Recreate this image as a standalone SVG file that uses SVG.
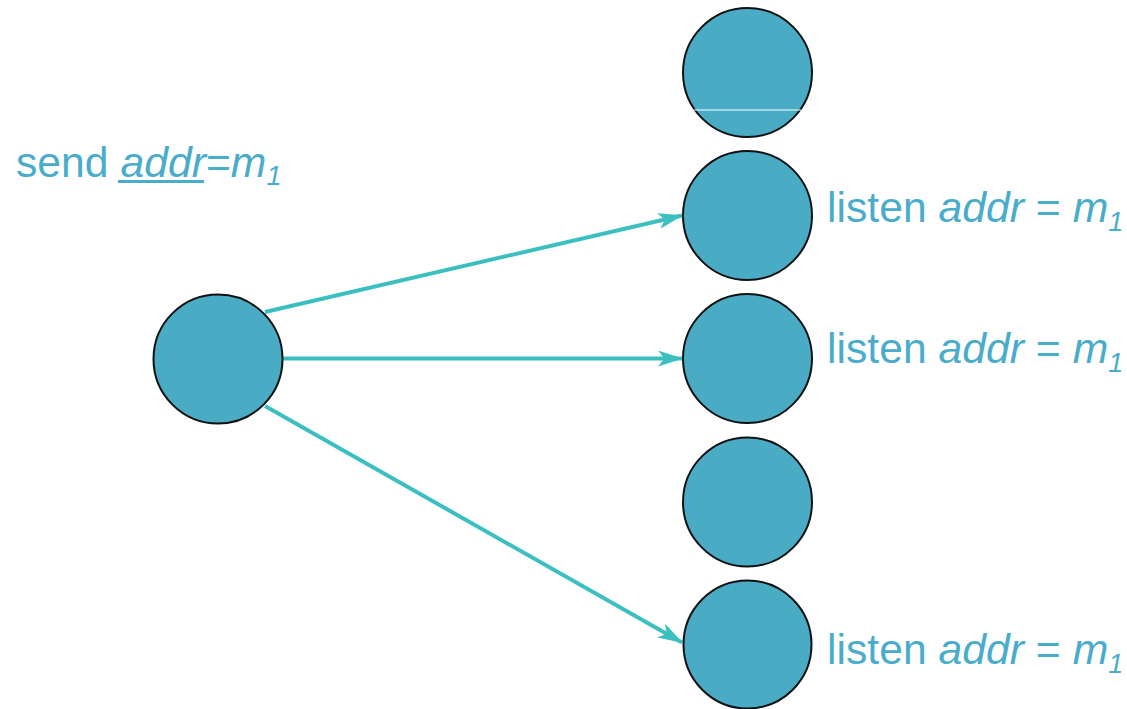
<svg xmlns="http://www.w3.org/2000/svg" width="1127" height="709" viewBox="0 0 1127 709">
<defs>
<style>
.node{fill:#4aabc5;stroke:#111;stroke-width:2}
.lbl{font-family:"Liberation Sans",Arial,sans-serif;font-size:42.7px;fill:#4aaccb}
.it{font-style:italic}
.sub{font-size:27px;font-style:italic}
.edge{stroke:#3cbfc0;stroke-width:4;fill:none}
</style>
<marker id="arr" markerWidth="7" markerHeight="4" refX="6" refY="2" orient="auto" markerUnits="strokeWidth">
<path d="M0,0 L6.3,2 L0,4 L1.6,2 Z" fill="#3cbfc0"/>
</marker>
</defs>
<rect width="1127" height="709" fill="#fff"/>
<g id="connectors">
<line class="edge" x1="265" y1="312" x2="682" y2="215.5" marker-end="url(#arr)"/>
<line class="edge" x1="283" y1="358.5" x2="682" y2="358.5" marker-end="url(#arr)"/>
<line class="edge" x1="265" y1="406" x2="682" y2="642.5" marker-end="url(#arr)"/>
</g>
<g id="sender">
<circle class="node" cx="218" cy="359" r="64.5"/>
<text class="lbl" x="16" y="177">send <tspan class="it">addr</tspan>=<tspan class="it">m</tspan><tspan class="sub" dy="8">1</tspan></text>
<rect x="118" y="180" width="86" height="3" fill="#4aaccb"/>
</g>
<g id="r1">
<circle class="node" cx="747.5" cy="72.5" r="64.5"/>
<line x1="693" y1="110" x2="801" y2="110" stroke="#fff" stroke-width="1"/>
</g>
<g id="r2">
<circle class="node" cx="747.5" cy="215.5" r="64.5"/>
<text class="lbl" x="827" y="222">listen <tspan class="it">addr</tspan> = <tspan class="it">m</tspan><tspan class="sub" dy="9">1</tspan></text>
</g>
<g id="r3">
<circle class="node" cx="747.5" cy="358.5" r="64.5"/>
<text class="lbl" x="827" y="363">listen <tspan class="it">addr</tspan> = <tspan class="it">m</tspan><tspan class="sub" dy="9">1</tspan></text>
</g>
<g id="r4">
<circle class="node" cx="747.5" cy="502" r="64.5"/>
</g>
<g id="r5">
<circle class="node" cx="747.5" cy="644.5" r="64"/>
<text class="lbl" x="827" y="664">listen <tspan class="it">addr</tspan> = <tspan class="it">m</tspan><tspan class="sub" dy="9">1</tspan></text>
</g>
</svg>
